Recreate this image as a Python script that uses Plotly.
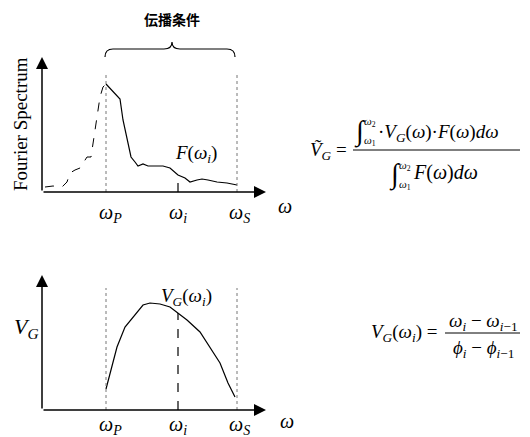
import plotly.graph_objects as go

W, H = 530, 437

# ---- data (arbitrary units: 1 unit ~ 1 px) ----
# Fourier spectrum, below omega_P (dashed) and in the band (solid)
fs_dash_x = [3, 11, 20, 25, 28, 33, 38, 41, 45, 49, 51, 55, 58, 61, 64]
fs_dash_y = [5, 6, 5, 10, 19, 22, 24, 29, 35, 35, 49, 75, 95, 105, 108]
fs_solid_x = [64, 71, 78, 81, 83, 86, 89, 93, 96, 101, 106, 115, 121, 128, 133,
              136, 143, 148, 155, 160, 166, 175, 185, 195]
fs_solid_y = [108, 100, 93, 72, 62, 49, 35, 30, 26, 28, 26, 26, 26, 24, 20,
              17, 14, 10, 12, 13, 12, 10, 9, 7]
# group velocity curve
vg_x = [64, 68, 75, 83, 91, 101, 108, 118, 128, 136, 145, 158, 168, 178, 186, 193]
vg_y = [21, 37, 63, 83, 93, 105, 107, 106, 103, 97, 90, 78, 63, 47, 27, 13]

omega_P, omega_i, omega_S = 64, 136, 195
F_at_i = 17
VG_at_i = 97
band_top_1 = 120
band_top_2 = 122
x_tick_labels = ["<i>ω</i><sub><i>P</i></sub>", "<i>ω</i><sub><i>i</i></sub>", "<i>ω</i><sub><i>S</i></sub>"]

SERIF = "Liberation Serif"
CJK = "Noto Sans CJK JP"


def px(x):
    return x / W


def py(y):
    return 1 - y / H


fig = go.Figure()

# top panel traces
fig.add_trace(go.Scatter(x=fs_dash_x, y=fs_dash_y, mode="lines",
                         line=dict(color="black", width=1, dash="dash"), xaxis="x", yaxis="y"))
fig.add_trace(go.Scatter(x=fs_solid_x, y=fs_solid_y, mode="lines",
                         line=dict(color="black", width=1.2), xaxis="x", yaxis="y"))
for xv in (omega_P, omega_S):
    fig.add_trace(go.Scatter(x=[xv, xv], y=[0, band_top_1], mode="lines",
                             line=dict(color="#777", width=1, dash="dot"), xaxis="x", yaxis="y"))
fig.add_trace(go.Scatter(x=[omega_i, omega_i], y=[0, F_at_i], mode="lines",
                         line=dict(color="black", width=1.2, dash="dash"), xaxis="x", yaxis="y"))

# bottom panel traces
fig.add_trace(go.Scatter(x=vg_x, y=vg_y, mode="lines",
                         line=dict(color="black", width=1.2), xaxis="x2", yaxis="y2"))
for xv in (omega_P, omega_S):
    fig.add_trace(go.Scatter(x=[xv, xv], y=[0, band_top_2], mode="lines",
                             line=dict(color="#777", width=1, dash="dot"), xaxis="x2", yaxis="y2"))
fig.add_trace(go.Scatter(x=[omega_i, omega_i], y=[0, VG_at_i], mode="lines",
                         line=dict(color="black", width=1.2, dash="dash"), xaxis="x2", yaxis="y2"))

ax_common = dict(visible=False, range=[0, 230], fixedrange=True)
fig.update_layout(
    width=W, height=H, margin=dict(l=0, r=0, t=0, b=0),
    paper_bgcolor="white", plot_bgcolor="white", showlegend=False,
    xaxis=dict(domain=[px(42), px(272)], anchor="y", **ax_common),
    yaxis=dict(domain=[py(192), py(52)], range=[0, 140], visible=False, anchor="x", fixedrange=True),
    xaxis2=dict(domain=[px(42), px(272)], anchor="y2", **ax_common),
    yaxis2=dict(domain=[py(410), py(270)], range=[0, 140], visible=False, anchor="x2", fixedrange=True),
)

ann = []
# axis arrows
for xr, yr in (("x", "y"), ("x2", "y2")):
    ann.append(dict(x=224, y=0, ax=0, ay=0, xref=xr, yref=yr, axref=xr, ayref=yr,
                    showarrow=True, arrowhead=2, arrowsize=1.6, arrowwidth=1.5,
                    arrowcolor="black", text=""))
    ann.append(dict(x=0, y=135, ax=0, ay=0, xref=xr, yref=yr, axref=xr, ayref=yr,
                    showarrow=True, arrowhead=2, arrowsize=1.6, arrowwidth=1.5,
                    arrowcolor="black", text=""))


def txt(x, y, t, size=19, font=SERIF, **kw):
    ann.append(dict(x=px(x), y=py(y), xref="paper", yref="paper", text=t,
                    showarrow=False, xanchor=kw.pop("xanchor", "center"),
                    yanchor=kw.pop("yanchor", "middle"),
                    font=dict(family=font, size=size, color="black"), **kw))


# top panel labels
txt(172, 19, "<b>伝播条件</b>", size=14, font=CJK)
txt(21, 124, "Fourier Spectrum", size=19, textangle=-90)
for xv, lab in zip((110, 178, 239), x_tick_labels):
    txt(xv, 213, lab, size=20)
    txt(xv, 425, lab, size=20)
txt(285, 206, "<i>ω</i>", size=20)
txt(287, 421, "<i>ω</i>", size=20)
txt(196, 154, "<i>F</i>(<i>ω</i><sub><i>i</i></sub>)", size=19)
# bottom panel labels
txt(186, 297, "<i>V</i><sub><i>G</i></sub>(<i>ω</i><sub><i>i</i></sub>)", size=19)
txt(26, 328, "<i>V</i><sub><i>G</i></sub>", size=22)

# formula 1
txt(349, 151, "<i>V\u0303</i><sub><i>G</i></sub> =", size=19, xanchor="right")
txt(360, 131, "∫", size=28)
txt(362, 122, "<i>ω</i><sub>2</sub>", size=11, xanchor="left")
txt(362, 141, "<i>ω</i><sub>1</sub>", size=11, xanchor="left")
txt(376, 133, "·<i>V</i><sub><i>G</i></sub>(<i>ω</i>)·<i>F</i>(<i>ω</i>)<i>dω</i>", size=19, xanchor="left")
txt(395, 175, "∫", size=28)
txt(397, 166, "<i>ω</i><sub>2</sub>", size=11, xanchor="left")
txt(397, 185, "<i>ω</i><sub>1</sub>", size=11, xanchor="left")
txt(411, 172, "<i>F</i>(<i>ω</i>)<i>dω</i>", size=20, xanchor="left")

# formula 2
txt(439, 333, "<i>V</i><sub><i>G</i></sub>(<i>ω</i><sub><i>i</i></sub>) =", size=19, xanchor="right")
txt(483, 322, "<i>ω</i><sub><i>i</i></sub> − <i>ω</i><sub><i>i</i>−1</sub>", size=19)
txt(483, 349, "<i>ϕ</i><sub><i>i</i></sub> − <i>ϕ</i><sub><i>i</i>−1</sub>", size=19)

fig.update_layout(annotations=ann)

# brace and fraction bars (paper coordinates)
def P(x, y):
    return f"{px(x):.5f},{py(y):.5f}"

brace = (f"M{P(105,57)} Q{P(105,49)} {P(113,49)} L{P(164,49)} Q{P(172,49)} {P(172,42)} "
         f"Q{P(172,49)} {P(180,49)} L{P(227,49)} Q{P(235,49)} {P(235,57)}")
fig.add_shape(type="path", path=brace, xref="paper", yref="paper",
              line=dict(color="black", width=1.2))
fig.add_shape(type="line", x0=px(353), x1=px(520), y0=py(150), y1=py(150),
              xref="paper", yref="paper", line=dict(color="black", width=1))
fig.add_shape(type="line", x0=px(445), x1=px(520), y0=py(333), y1=py(333),
              xref="paper", yref="paper", line=dict(color="black", width=1))

fig.write_html("out.html", config={"displayModeBar": False},
               post_script="document.body.style.margin='0';document.body.style.overflow='hidden';")
